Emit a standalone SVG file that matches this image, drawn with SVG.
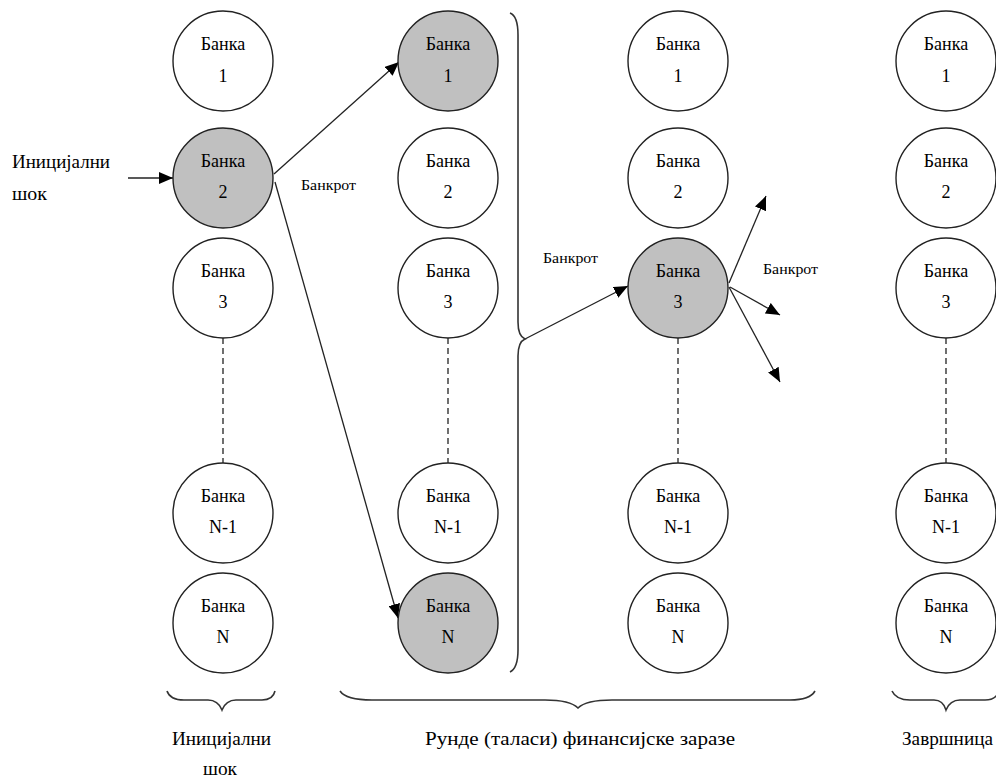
<svg xmlns="http://www.w3.org/2000/svg" width="996" height="778" viewBox="0 0 996 778">
<defs>
<style>
.n{fill:#fff;stroke:#222;stroke-width:1.4}
.g{fill:#c0c0c0}
.t{font-family:"Liberation Serif","Times New Roman","DejaVu Serif","Noto Serif",serif;font-size:18px;fill:#000;text-anchor:middle}
.l{font-family:"Liberation Serif","Times New Roman","DejaVu Serif","Noto Serif",serif;font-size:18px;fill:#000}
.s{font-family:"Liberation Serif","Times New Roman","DejaVu Serif","Noto Serif",serif;font-size:15px;fill:#000}
.c{fill:none;stroke:#222;stroke-width:1.3}
.d{fill:none;stroke:#222;stroke-width:1.3;stroke-dasharray:6 4}
.b{fill:none;stroke:#333;stroke-width:1.6}
</style>
<marker id="ah" viewBox="0 0 14 12" refX="14" refY="6" markerWidth="14" markerHeight="12" orient="auto" markerUnits="userSpaceOnUse"><path d="M0,0 L14,6 L0,12 z" fill="#000"/></marker>
</defs>
<rect width="996" height="778" fill="#fff"/>

<g id="connectors">
<path class="d" d="M223,338 V463"/>
<path class="d" d="M448,338 V463"/>
<path class="d" d="M678,338 V463"/>
<path class="d" d="M946,338 V463"/>
<path class="c" d="M128,178 L173,178" marker-end="url(#ah)"/>
<path class="c" d="M274,174 L399,62" marker-end="url(#ah)"/>
<path class="c" d="M275,182 L398,618" marker-end="url(#ah)"/>
<path class="c" d="M525,339 L628,286" marker-end="url(#ah)"/>
<path class="c" d="M729,283 L766,196" marker-end="url(#ah)"/>
<path class="c" d="M730,287 L780,315" marker-end="url(#ah)"/>
<path class="c" d="M729,287 L780,382" marker-end="url(#ah)"/>
</g>

<g id="c1">
<g id="c1-b1"><circle class="n" cx="223" cy="61" r="50"/><text class="t" x="223" y="50">Банка</text><text class="t" x="223" y="82">1</text></g>
<g id="c1-b2"><circle class="n g" cx="223" cy="178" r="50"/><text class="t" x="223" y="167">Банка</text><text class="t" x="223" y="198">2</text></g>
<g id="c1-b3"><circle class="n" cx="223" cy="288" r="50"/><text class="t" x="223" y="277">Банка</text><text class="t" x="223" y="308">3</text></g>
<g id="c1-bn1"><circle class="n" cx="223" cy="513" r="50"/><text class="t" x="223" y="502">Банка</text><text class="t" x="223" y="533">N-1</text></g>
<g id="c1-bn"><circle class="n" cx="223" cy="623" r="50"/><text class="t" x="223" y="612">Банка</text><text class="t" x="223" y="643">N</text></g>
</g>

<g id="c2">
<g id="c2-b1"><circle class="n g" cx="448" cy="61" r="50"/><text class="t" x="448" y="50">Банка</text><text class="t" x="448" y="82">1</text></g>
<g id="c2-b2"><circle class="n" cx="448" cy="178" r="50"/><text class="t" x="448" y="167">Банка</text><text class="t" x="448" y="198">2</text></g>
<g id="c2-b3"><circle class="n" cx="448" cy="288" r="50"/><text class="t" x="448" y="277">Банка</text><text class="t" x="448" y="308">3</text></g>
<g id="c2-bn1"><circle class="n" cx="448" cy="513" r="50"/><text class="t" x="448" y="502">Банка</text><text class="t" x="448" y="533">N-1</text></g>
<g id="c2-bn"><circle class="n g" cx="448" cy="623" r="50"/><text class="t" x="448" y="612">Банка</text><text class="t" x="448" y="643">N</text></g>
</g>

<g id="c3">
<g id="c3-b1"><circle class="n" cx="678" cy="61" r="50"/><text class="t" x="678" y="50">Банка</text><text class="t" x="678" y="82">1</text></g>
<g id="c3-b2"><circle class="n" cx="678" cy="178" r="50"/><text class="t" x="678" y="167">Банка</text><text class="t" x="678" y="198">2</text></g>
<g id="c3-b3"><circle class="n g" cx="678" cy="288" r="50"/><text class="t" x="678" y="277">Банка</text><text class="t" x="678" y="308">3</text></g>
<g id="c3-bn1"><circle class="n" cx="678" cy="513" r="50"/><text class="t" x="678" y="502">Банка</text><text class="t" x="678" y="533">N-1</text></g>
<g id="c3-bn"><circle class="n" cx="678" cy="623" r="50"/><text class="t" x="678" y="612">Банка</text><text class="t" x="678" y="643">N</text></g>
</g>

<g id="c4">
<g id="c4-b1"><circle class="n" cx="946" cy="61" r="50"/><text class="t" x="946" y="50">Банка</text><text class="t" x="946" y="82">1</text></g>
<g id="c4-b2"><circle class="n" cx="946" cy="178" r="50"/><text class="t" x="946" y="167">Банка</text><text class="t" x="946" y="198">2</text></g>
<g id="c4-b3"><circle class="n" cx="946" cy="288" r="50"/><text class="t" x="946" y="277">Банка</text><text class="t" x="946" y="308">3</text></g>
<g id="c4-bn1"><circle class="n" cx="946" cy="513" r="50"/><text class="t" x="946" y="502">Банка</text><text class="t" x="946" y="533">N-1</text></g>
<g id="c4-bn"><circle class="n" cx="946" cy="623" r="50"/><text class="t" x="946" y="612">Банка</text><text class="t" x="946" y="643">N</text></g>
</g>

<g id="braces">
<path class="b" d="M510,13 Q518,16 518,35 L518,322 Q518,336 525,339 Q518,342 518,356 L518,650 Q518,668 510,672"/>
<path class="b" d="M167,691 Q170,700 184,700 L208,700 Q218,700 222,710 Q226,700 236,700 L262,700 Q273,700 275,691"/>
<path class="b" d="M340,691 Q346,700 372,700 L545,700 Q570,700 578,708 Q586,700 612,700 L790,700 Q810,700 815,691"/>
<path class="b" d="M892,691 Q896,700 910,700 L934,700 Q943,700 946,710 Q950,700 960,700 L985,700 Q996,700 999,691"/>
</g>

<g id="labels">
<text class="l" x="12" y="168" textLength="98" lengthAdjust="spacingAndGlyphs">Иницијални</text>
<text class="l" x="12" y="200" textLength="35" lengthAdjust="spacingAndGlyphs">шок</text>
<text class="s" x="301" y="190" textLength="55" lengthAdjust="spacingAndGlyphs">Банкрот</text>
<text class="s" x="543" y="263" textLength="55" lengthAdjust="spacingAndGlyphs">Банкрот</text>
<text class="s" x="763" y="274" textLength="55" lengthAdjust="spacingAndGlyphs">Банкрот</text>
<text class="l" x="172" y="745" textLength="99" lengthAdjust="spacingAndGlyphs">Иницијални</text>
<text class="l" x="203" y="775" textLength="34" lengthAdjust="spacingAndGlyphs">шок</text>
<text class="l" x="425" y="745" textLength="310" lengthAdjust="spacingAndGlyphs">Рунде (таласи) финансијске заразе</text>
<text class="l" x="902" y="745" textLength="91" lengthAdjust="spacingAndGlyphs">Завршница</text>
</g>
</svg>
